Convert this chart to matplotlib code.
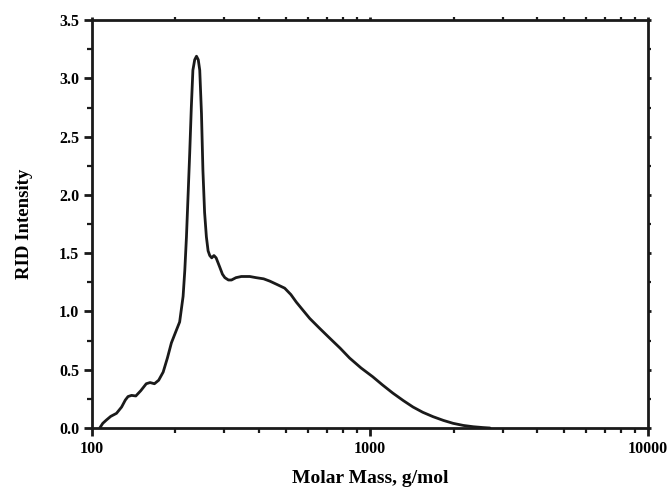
import matplotlib
matplotlib.use("Agg")
import matplotlib.pyplot as plt
from matplotlib.ticker import FixedLocator, MultipleLocator, FormatStrFormatter, NullFormatter

# RID trace, molar mass (g/mol) vs intensity
molar_mass = [106.8, 109.5, 112.9, 117.0, 122.7, 128.0, 132.0, 135.0, 139.0, 144.0,
              150.0, 157.0, 162.0, 168.0, 174.0, 180.6, 187.0, 193.3, 200.0, 207.0,
              213.0, 216.0, 219.0, 222.0, 225.0, 228.0, 231.0, 234.5, 238.0, 241.5,
              244.5, 248.0, 251.0, 254.5, 258.3, 262.0, 265.6, 270.0, 275.0, 280.0,
              288.6, 295.0, 301.0, 310.0, 318.0, 330.0, 345.0, 370.0, 390.0, 415.0,
              437.0, 465.0, 494.0, 520.0, 544.0, 575.0, 608.0, 660.0, 718.0, 782.0,
              846.0, 930.0, 1024.0, 1110.0, 1209.0, 1320.0, 1430.0, 1550.0, 1689.0, 1840.0,
              1994.0, 2170.0, 2356.0, 2550.0, 2705.0]
rid_intensity = [0.0, 0.04, 0.069, 0.10, 0.126, 0.18, 0.24, 0.27, 0.28, 0.275,
                 0.32, 0.38, 0.39, 0.38, 0.41, 0.48, 0.60, 0.73, 0.82, 0.91,
                 1.13, 1.35, 1.64, 2.00, 2.36, 2.75, 3.07, 3.16, 3.19, 3.16,
                 3.07, 2.70, 2.21, 1.85, 1.64, 1.52, 1.48, 1.46, 1.48, 1.46,
                 1.38, 1.32, 1.29, 1.27, 1.27, 1.29, 1.30, 1.30, 1.29, 1.28,
                 1.26, 1.23, 1.20, 1.145, 1.08, 1.01, 0.94, 0.855, 0.77, 0.685,
                 0.60, 0.515, 0.44, 0.37, 0.30, 0.235, 0.18, 0.135, 0.097, 0.065,
                 0.04, 0.022, 0.011, 0.004, 0.0]

x_major = [100, 1000, 10000]
x_minor = [m * d for d in (100, 1000) for m in range(2, 10)]

plt.rcParams["font.family"] = ["Liberation Serif", "DejaVu Serif"]
plt.rcParams["font.weight"] = "bold"

fig = plt.figure(figsize=(6.7, 4.9), dpi=100)
ax = fig.add_axes([0.137, 0.1265, 0.830, 0.8325])

ax.plot(molar_mass, rid_intensity, color="#1a1a1a", lw=2.0,
        solid_joinstyle="round", solid_capstyle="round")

ax.set_xscale("log")
ax.set_xlim(100, 10000)
ax.set_ylim(0, 3.5)

ax.xaxis.set_major_locator(FixedLocator(x_major))
ax.xaxis.set_minor_locator(FixedLocator(x_minor))
ax.xaxis.set_major_formatter(FormatStrFormatter("%d"))
ax.xaxis.set_minor_formatter(NullFormatter())
ax.yaxis.set_major_locator(MultipleLocator(0.5))
ax.yaxis.set_minor_locator(MultipleLocator(0.25))
ax.yaxis.set_major_formatter(FormatStrFormatter("%.1f"))

for s in ax.spines.values():
    s.set_linewidth(2.0)
    s.set_color("#1a1a1a")

ax.tick_params(which="major", direction="out", length=6, width=2.0, labelsize=11.5,
               color="#1a1a1a", pad=3)
ax.tick_params(which="minor", direction="out", length=3.5, width=1.6, color="#1a1a1a")
ax.tick_params(which="both", top=True, right=True)
ax.tick_params(axis="both", which="both", labeltop=False, labelright=False)
# short marks on the top and right frame
for t in ax.xaxis.get_major_ticks() + ax.xaxis.get_minor_ticks():
    t.tick2line.set_markersize(2)
for t in ax.yaxis.get_major_ticks() + ax.yaxis.get_minor_ticks():
    t.tick2line.set_markersize(2)

ax.set_xlabel("Molar Mass, g/mol", fontsize=14, fontweight="bold", labelpad=10)
ax.set_ylabel("RID Intensity", fontsize=13.5, fontweight="bold", labelpad=19)

fig.savefig("out.png", dpi=100)
